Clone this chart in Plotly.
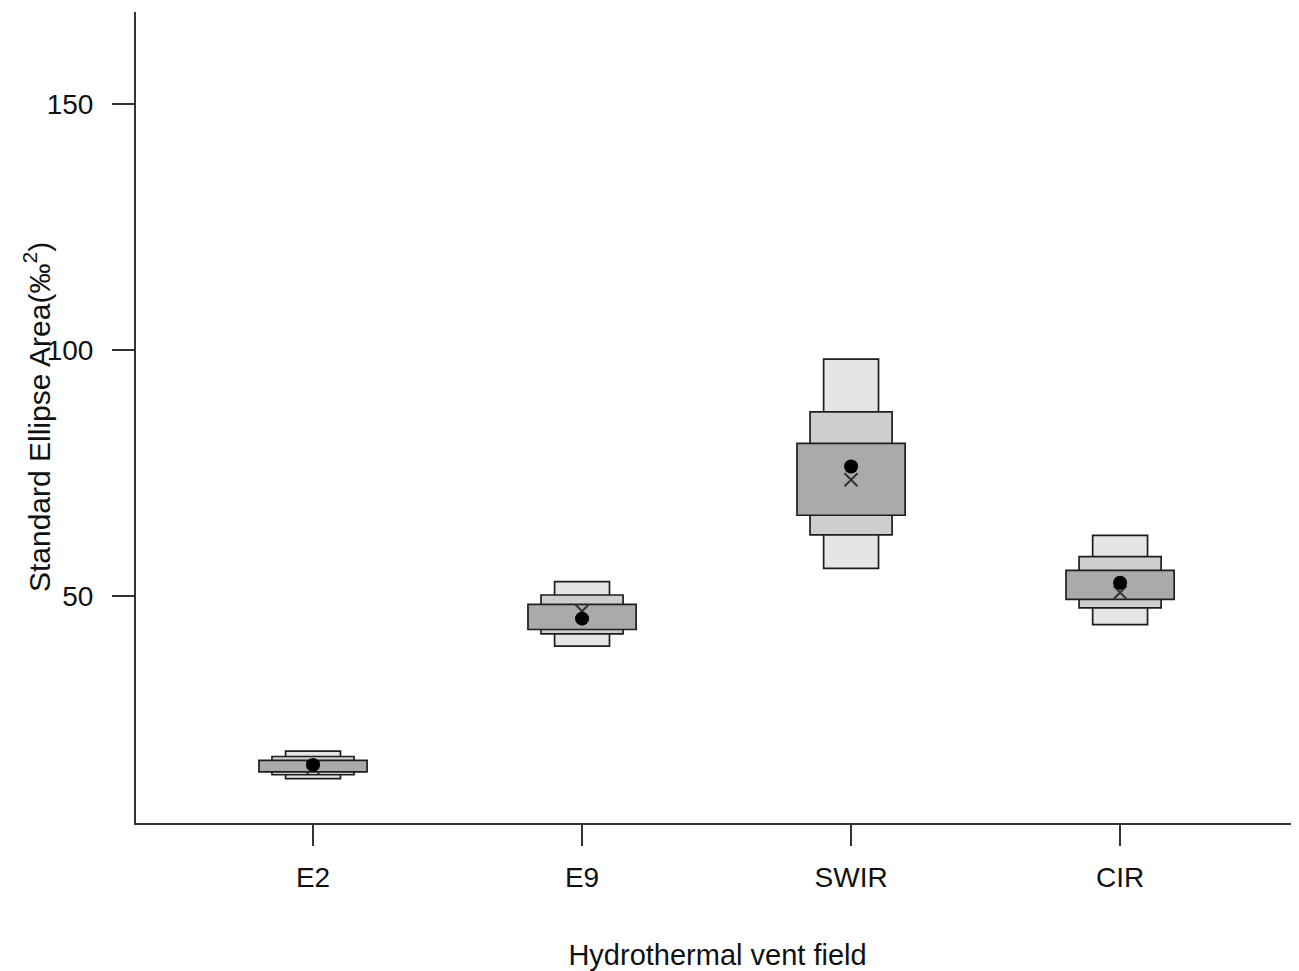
import plotly.graph_objects as go

categories = ["E2", "E9", "SWIR", "CIR"]
xpos = [1, 2, 3, 4]
# credible intervals (lower, upper) for the three levels
ci95_low = [13.0, 39.9, 55.7, 44.3]
ci95_high = [18.6, 53.0, 98.2, 62.4]
ci75_low = [13.8, 42.4, 62.5, 47.7]
ci75_high = [17.5, 50.3, 87.5, 58.1]
ci50_low = [14.4, 43.3, 66.5, 49.4]
ci50_high = [16.7, 48.4, 81.1, 55.3]
mode_vals = [15.8, 45.5, 76.4, 52.8]
seac_vals = [15.2, 47.0, 73.7, 50.8]
y_ticks = [50, 100, 150]

fig = go.Figure()
levels = [
    (ci95_low, ci95_high, 0.204, "#e5e5e5"),
    (ci75_low, ci75_high, 0.305, "#cecece"),
    (ci50_low, ci50_high, 0.402, "#aaaaaa"),
]
for lo, hi, w, col in levels:
    fig.add_trace(go.Bar(
        x=xpos, base=lo, y=[h - l for l, h in zip(lo, hi)], width=w,
        marker=dict(color=col, line=dict(color="#1e1e1e", width=1.7)),
        showlegend=False, hoverinfo="skip",
    ))

fig.add_trace(go.Scatter(
    x=xpos, y=seac_vals, mode="markers",
    marker=dict(symbol="x-thin", size=13, line=dict(color="#333333", width=2)),
    showlegend=False,
))
fig.add_trace(go.Scatter(
    x=xpos, y=mode_vals, mode="markers",
    marker=dict(symbol="circle", size=14, color="black"),
    showlegend=False,
))

fam = "Liberation Sans, Arial, sans-serif"
tickfont = dict(family=fam, size=28, color="#111111")
titlefont = dict(family=fam, size=29, color="#111111")
ytitlefont = dict(family=fam, size=30, color="#111111")
fig.update_layout(
    width=1291, height=963,
    margin=dict(l=128, r=0, t=4, b=148),
    paper_bgcolor="white", plot_bgcolor="white",
    barmode="overlay", font=tickfont,
    xaxis=dict(
        range=[0.342, 4.665], tickvals=xpos, ticktext=categories,
        showline=True, linecolor="#333333", linewidth=2, mirror=False,
        ticks="outside", ticklen=21, tickwidth=1.5, tickcolor="#333333",
        ticklabelstandoff=7,
        showgrid=False, zeroline=False, tickfont=tickfont,
        title=dict(text="Hydrothermal vent field", font=titlefont, standoff=53),
    ),
    yaxis=dict(
        range=[4, 168.7], tickvals=y_ticks,
        showline=True, linecolor="#333333", linewidth=2,
        ticks="outside", ticklen=22, tickwidth=1.5, tickcolor="#333333",
        ticklabelstandoff=13,
        showgrid=False, zeroline=False, tickfont=tickfont,
    ),
    annotations=[dict(
        text="Standard Ellipse Area(‰<sup>2</sup>)", textangle=-90,
        xref="paper", yref="paper", x=-0.0855, y=0.5, xanchor="center", yanchor="middle",
        showarrow=False, font=ytitlefont,
    )],
)

fig.write_html("out.html")
